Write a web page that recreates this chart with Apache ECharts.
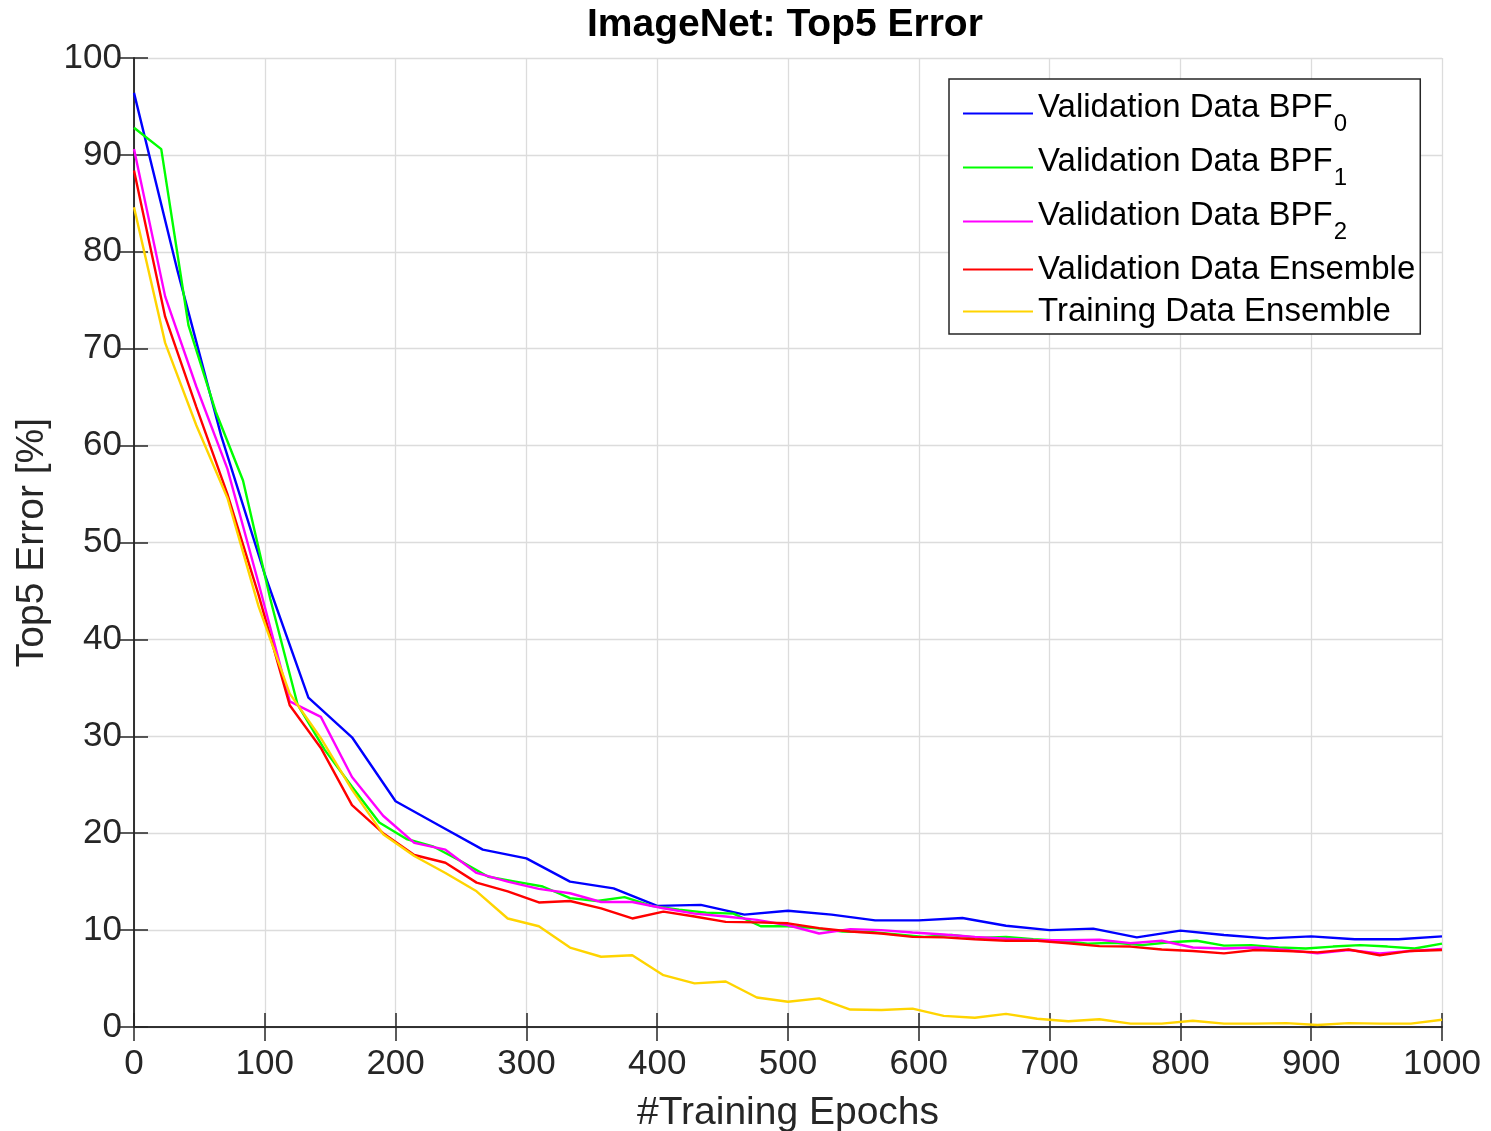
<!DOCTYPE html>
<html>
<head>
<meta charset="utf-8">
<title>ImageNet: Top5 Error</title>
<script src="https://cdn.jsdelivr.net/npm/echarts@6/dist/echarts.min.js"></script>
<style>
    html, body { margin: 0; padding: 0; background: #fff; }
    #chart { width: 1491px; height: 1131px; }
</style>
</head>
<body>
<div id="chart"></div>
<script>
// values (top5 error in %)
var bpf0Err = [96.4, 78, 61, 46.7, 34.0, 29.9, 23.3, 20.8, 18.3, 17.4, 15.0, 14.3, 12.5, 12.6, 11.6, 12.0,
    11.6, 11.0, 11.0, 11.25, 10.45, 10.0, 10.15, 9.25, 9.95, 9.5, 9.15, 9.35, 9.05, 9.05, 9.35];
var bpf1Err = [92.8, 90.6, 72.4, 63.5, 56.4, 44.2, 33.3, 28.6, 24.8, 21.1, 19.4, 18.6, 17.1, 15.5, 15.0, 14.5,
    13.3, 13.0, 13.4, 12.5, 12.1, 11.8, 11.7, 10.4, 10.4, 10.2, 9.85, 9.8, 9.55, 9.3, 9.5, 9.2, 9.3, 9.05,
    8.9, 8.6, 8.7, 8.45, 8.75, 8.9, 8.4, 8.45, 8.2, 8.1, 8.3, 8.45, 8.3, 8.1, 8.6];
var bpf2Err = [90.6, 75.4, 66.1, 57.6, 45.8, 33.6, 32.0, 25.8, 21.8, 19.0, 18.3, 15.9, 15.0, 14.25, 13.8, 12.9,
    12.9, 12.25, 11.7, 11.4, 11.05, 10.5, 9.65, 10.1, 10.0, 9.75, 9.55, 9.3, 9.1, 8.95, 8.95, 9.0, 8.65, 8.9,
    8.2, 8.1, 8.2, 7.95, 7.6, 7.95, 7.6, 7.85, 8.05];
var ensValErr = [88.4, 73.3, 64.0, 55.0, 44.6, 33.2, 28.8, 22.9, 20.0, 17.75, 16.95, 14.9, 14.0, 12.85, 13.0,
    12.25, 11.2, 11.9, 11.4, 10.85, 10.8, 10.7, 10.2, 9.85, 9.65, 9.3, 9.25, 9.05, 8.9, 8.9, 8.65, 8.35, 8.3,
    8.0, 7.85, 7.6, 7.95, 7.85, 7.7, 8.0, 7.4, 7.85, 7.95];
var ensTrainErr = [84.6, 70.6, 62.1, 54.6, 43.4, 34.4, 29.8, 24.5, 19.9, 17.65, 15.9, 14.0, 11.2, 10.4, 8.2,
    7.25, 7.4, 5.35, 4.5, 4.7, 3.05, 2.6, 2.95, 1.8, 1.75, 1.9, 1.15, 0.95, 1.35, 0.85, 0.6, 0.8, 0.35, 0.35,
    0.65, 0.35, 0.35, 0.4, 0.2, 0.4, 0.35, 0.35, 0.75];

var seriesNames = ['Validation Data BPF_0', 'Validation Data BPF_1', 'Validation Data BPF_2',
    'Validation Data Ensemble', 'Training Data Ensemble'];
var seriesColors = ['#0000ff', '#00ff00', '#ff00ff', '#ff0000', '#ffd400'];
var maxEpoch = 1000;

var FONT = '"Liberation Sans", Arial, Helvetica, sans-serif';
var AXIS_COLOR = '#262626';

// samples are evenly spread over the 1000 epochs
function toPoints(values) {
    var step = maxEpoch / (values.length - 1);
    return values.map(function (v, i) { return [i * step, v]; });
}

var allValues = [bpf0Err, bpf1Err, bpf2Err, ensValErr, ensTrainErr];
var series = [];
allValues.forEach(function (item, index) {
    series.push({
        name: seriesNames[index],
        type: 'line',
        data: toPoints(item),
        symbol: 'none',
        lineStyle: { color: seriesColors[index], width: 2.4 },
        itemStyle: { color: seriesColors[index] },
        animation: false
    });
});

var myChart = echarts.init(document.getElementById('chart'));

// top and right side of the box, ticks pointing inward
var frameAxis = {
    axisLine: { show: true, lineStyle: { color: AXIS_COLOR, width: 1.5 } },
    axisTick: { show: true, inside: true, length: 14, lineStyle: { color: AXIS_COLOR, width: 1.5 } },
    axisLabel: { show: false },
    splitLine: { show: false }
};

var option = {
    backgroundColor: '#fff',
    title: {
        text: 'ImageNet: Top5 Error',
        left: 582,
        top: 1,
        textStyle: { fontFamily: FONT, fontSize: 39, fontWeight: 'bold', color: '#000' }
    },
    grid: { left: 134, right: 49, top: 58, bottom: 104, outerBoundsMode: 'none' },
    legend: {
        orient: 'vertical',
        left: 949,
        top: 79,
        padding: [12, 5, 6, 13],
        itemGap: 9,
        itemWidth: 70,
        itemHeight: 14,
        itemStyle: { opacity: 0 },
        backgroundColor: '#fff',
        borderColor: AXIS_COLOR,
        borderWidth: 1.5,
        borderRadius: 0,
        data: seriesNames,
        formatter: function (name) {
            var parts = name.split('_');
            if (parts.length > 1) {
                return '{n|' + parts[0] + '}{s|' + parts[1] + '}';
            }
            return '{n|' + name + '}';
        },
        textStyle: {
            fontFamily: FONT,
            color: '#000',
            rich: {
                n: { fontFamily: FONT, fontSize: 33, verticalAlign: 'top', color: '#000' },
                s: { fontFamily: FONT, fontSize: 24, verticalAlign: 'top', padding: [21, 0, 0, 1], color: '#000' }
            }
        }
    },
    xAxis: [{
        type: 'value',
        min: 0,
        max: maxEpoch,
        interval: 100,
        name: '#Training Epochs',
        nameLocation: 'middle',
        nameGap: 67,
        nameTextStyle: { fontFamily: FONT, fontSize: 39, color: AXIS_COLOR },
        axisLine: { show: true, onZero: false, lineStyle: { color: AXIS_COLOR, width: 1.5 } },
        axisTick: { show: true, inside: true, length: 14, lineStyle: { color: AXIS_COLOR, width: 1.5 } },
        axisLabel: {
            fontFamily: FONT, fontSize: 35, color: AXIS_COLOR, margin: 20,
            formatter: function (v) { return String(v); }
        },
        splitLine: { show: true, lineStyle: { color: '#dcdcdc', width: 1.3 } }
    }, Object.assign({ type: 'value', position: 'top', min: 0, max: maxEpoch, interval: 100 }, frameAxis)],
    yAxis: [{
        type: 'value',
        min: 0,
        max: 100,
        interval: 10,
        name: 'Top5 Error [%]',
        nameLocation: 'middle',
        nameGap: 82,
        nameTextStyle: { fontFamily: FONT, fontSize: 39, color: AXIS_COLOR },
        axisLine: { show: true, onZero: false, lineStyle: { color: AXIS_COLOR, width: 1.5 } },
        axisTick: { show: true, inside: true, length: 14, lineStyle: { color: AXIS_COLOR, width: 1.5 } },
        axisLabel: { fontFamily: FONT, fontSize: 35, color: AXIS_COLOR, margin: 12 },
        splitLine: { show: true, lineStyle: { color: '#dcdcdc', width: 1.3 } }
    }, Object.assign({ type: 'value', position: 'right', min: 0, max: 100, interval: 10 }, frameAxis)],
    series: series
};

myChart.setOption(option);
</script>
</body>
</html>
